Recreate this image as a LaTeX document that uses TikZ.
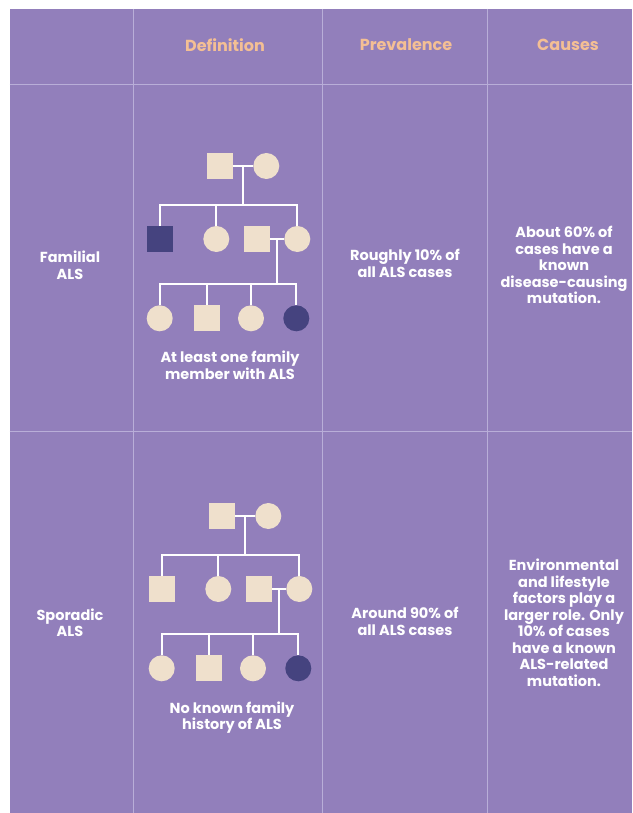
\documentclass[tikz,border=0pt]{standalone}
\usepackage{fontspec}
\setmainfont{Poppins}
\definecolor{bgpurple}{HTML}{927FBB}
\definecolor{peach}{HTML}{F4BF94}
\definecolor{beige}{HTML}{EFE0CC}
\definecolor{navy}{HTML}{45437F}
\definecolor{gridc}{HTML}{B9AED8}
\newcommand\pedtree[3]{%
\begin{scope}[shift={(#3)}]
\node[sqp] (#1a) at (219.5,166) {};
\node[cip] (#1b) at (266.3,166) {};
\coordinate (#1m) at (243,166);
\coordinate (#1s) at (243,205);
\node[sqp,fill=#2] (#1c1) at (159.7,239) {};
\node[cip] (#1c2) at (216.3,239) {};
\node[sqp] (#1c3) at (256.7,239) {};
\node[cip] (#1c4) at (297.3,239) {};
\coordinate (#1n) at (277,239);
\coordinate (#1t) at (277,284);
\node[cip] (#1d1) at (159.7,318.3) {};
\node[sqp] (#1d2) at (206.7,318.3) {};
\node[cip] (#1d3) at (251,318.3) {};
\node[cip,fill=navy] (#1d4) at (296.3,318.3) {};
\draw[pline] (#1a) -- (#1b);
\draw[pline] (#1m) -- (#1s);
\draw[pline] (#1c1.north) |- (#1s) -| (#1c4.north);
\draw[pline] (#1c2.north) -- (#1c2.north |- #1s);
\draw[pline] (#1c3) -- (#1c4);
\draw[pline] (#1n) -- (#1t);
\draw[pline] (#1d1.north) |- (#1t) -| (#1d4.north);
\draw[pline] (#1d2.north) -- (#1d2.north |- #1t);
\draw[pline] (#1d3.north) -- (#1d3.north |- #1t);
\end{scope}}
\begin{document}
\begin{tikzpicture}[x=1pt,y=-1pt,
  sqp/.style={rectangle,fill=beige,minimum size=26pt,inner sep=0pt},
  cip/.style={circle,fill=beige,minimum size=26pt,inner sep=0pt},
  pline/.style={white,line width=2pt},
  gridline/.style={gridc,line width=1pt},
  hdr/.style={text=peach,font=\fontsize{16}{18}\selectfont\bfseries,inner sep=0pt},
  body/.style={text=white,align=center,font=\fontsize{14.5}{16.5}\selectfont\bfseries,inner sep=0pt}]
\useasboundingbox (0,0) rectangle (632,813);
\fill[white] (0,0) rectangle (632,813);
\fill[bgpurple] (9.6,9) rectangle (632,813);
% grid
\draw[gridline] (133,9) -- (133,813);
\draw[gridline] (322,9) -- (322,813);
\draw[gridline] (487,9) -- (487,813);
\draw[gridline] (9.6,85) -- (632,85);
\draw[gridline] (9.6,431) -- (632,431);
% headers
\node[hdr] (hdef) at (225,45) {Definition};
\node[hdr] (hprev) at (406,45) {Prevalence};
\node[hdr] (hcause) at (568,45) {Causes};
% row labels
\node[body] (rfam) at (70,265) {Familial\\ALS};
\node[body] (rspor) at (70,622.5) {Sporadic\\ALS};
% prevalence
\node[body] (pfam) at (405,263.5) {Roughly 10\% of\\all ALS cases};
\node[body] (pspor) at (405,621.5) {Around 90\% of\\all ALS cases};
% causes
\node[body] (cfam) at (564,265.3) {About 60\% of\\cases have a\\known\\disease-causing\\mutation.};
\node[body] (cspor) at (564,622.5) {Environmental\\and lifestyle\\factors play a\\larger role. Only\\10\% of cases\\have a known\\ALS-related\\mutation.};
% pedigrees
\pedtree{f}{navy}{0,0}
\pedtree{s}{beige}{2,350}
\node[body] (dfam) at (230,365) {At least one family\\member with ALS};
\node[body] (dspor) at (232,717.5) {No known family\\history of ALS};
\end{tikzpicture}
\end{document}
